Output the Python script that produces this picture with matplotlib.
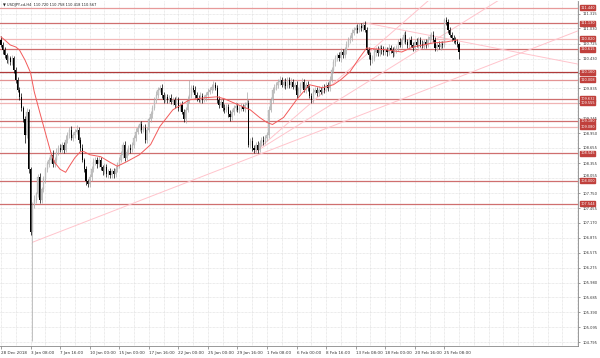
import numpy as np
import matplotlib
matplotlib.use('Agg')
import matplotlib.pyplot as plt
import matplotlib.transforms as mtransforms

# ---- data (USDJPY H4) ----
first_open = 110.80
closes = [
    110.70, 110.60, 110.50, 110.40, 110.44, 110.36, 110.44, 110.21, 110.01, 109.81,
    109.67, 109.45, 109.22, 108.92, 109.37, 108.23, 106.98, 107.53, 107.63, 107.73,
    108.07, 107.63, 107.83, 108.03, 108.23, 108.33, 108.42, 108.52, 108.33, 108.42,
    108.58, 108.66, 108.62, 108.72, 108.62, 108.82, 108.92, 109.02, 108.86, 108.92,
    108.98, 109.02, 108.82, 108.66, 108.42, 108.23, 107.99, 107.93, 108.07, 108.23,
    108.37, 108.42, 108.33, 108.42, 108.27, 108.19, 108.27, 108.13, 108.19, 108.11,
    108.19, 108.13, 108.23, 108.33, 108.42, 108.52, 108.72, 108.46, 108.58, 108.66,
    108.62, 108.72, 108.86, 108.98, 109.06, 109.12, 109.02, 109.06, 108.82, 109.02,
    109.22, 109.32, 109.45, 109.61, 109.71, 109.81, 109.85, 109.71, 109.61, 109.67,
    109.61, 109.65, 109.57, 109.61, 109.51, 109.61, 109.45, 109.51, 109.37, 109.22,
    109.41, 109.61, 109.71, 109.85, 109.81, 109.71, 109.65, 109.61, 109.69, 109.61,
    109.65, 109.71, 109.77, 109.81, 109.87, 109.91, 109.85, 109.61, 109.51, 109.57,
    109.45, 109.41, 109.47, 109.32, 109.26, 109.37, 109.45, 109.49, 109.41, 109.45,
    109.47, 109.43, 109.51, 109.55, 108.72, 108.80, 108.66, 108.62, 108.72, 108.62,
    108.76, 108.82, 108.78, 108.86, 108.92, 109.41, 109.61, 109.81, 109.85, 109.91,
    109.97, 110.01, 109.91, 109.97, 109.89, 110.01, 109.91, 109.97, 109.87, 109.91,
    109.71, 109.81, 109.91, 109.97, 109.81, 109.91, 109.85, 109.69, 109.61, 109.77,
    109.81, 109.75, 109.81, 109.77, 109.85, 109.81, 109.91, 109.85, 110.01, 110.21,
    110.36, 110.44, 110.50, 110.44, 110.56, 110.50, 110.60, 110.70, 110.80, 110.84,
    110.94, 111.00, 111.04, 111.00, 111.08, 111.04, 111.10, 111.00, 110.60, 110.50,
    110.40, 110.44, 110.56, 110.60, 110.54, 110.64, 110.60, 110.56, 110.60, 110.56,
    110.64, 110.60, 110.54, 110.60, 110.64, 110.76, 110.70, 110.80, 110.90, 110.76,
    110.70, 110.80, 110.70, 110.64, 110.76, 110.70, 110.80, 110.72, 110.68, 110.76,
    110.70, 110.80, 110.86, 110.90, 110.80, 110.64, 110.70, 110.66, 110.72, 110.70,
    111.20, 111.16, 111.00, 110.90, 110.84, 110.80, 110.76, 110.72, 110.567,
]
upper_wick = [
    .08, .05, .06, .04, .07, .05, .06, .04, .05, .06,
    .05, .07, .04, .06, .08, .05, .05, .06, .08, .05,
    .06, .08, .05, .06, .04, .07, .05, .06, .09, .05,
    .07, .05, .08, .06, .05, .09, .06, .05, .07, .06,
    .05, .08, .06, .05, .07, .04, .06, .05, .07, .06,
    .08, .06, .05, .07, .06, .05, .08, .06, .05, .07,
    .05, .06, .07, .05, .06, .08, .06, .07, .05, .06,
    .07, .05, .06, .08, .05, .07, .06, .05, .07, .06,
    .05, .07, .06, .05, .08, .06, .06, .07, .05, .06,
    .06, .05, .07, .06, .05, .07, .06, .05, .08, .06,
    .05, .07, .30, .06, .05, .07, .06, .05, .07, .06,
    .06, .05, .07, .06, .05, .08, .06, .05, .07, .06,
    .05, .07, .06, .05, .08, .06, .05, .07, .06, .05,
    .07, .06, .05, .22, .05, .06, .07, .05, .06, .07,
    .05, .06, .07, .05, .06, .08, .05, .06, .07, .05,
    .06, .07, .05, .06, .07, .05, .06, .07, .05, .06,
    .07, .05, .06, .07, .05, .06, .07, .05, .06, .07,
    .05, .06, .07, .05, .06, .07, .05, .06, .07, .05,
    .06, .07, .05, .06, .07, .05, .06, .07, .05, .06,
    .07, .05, .06, .07, .05, .06, .05, .07, .06, .05,
    .06, .07, .05, .06, .07, .05, .06, .07, .05, .06,
    .07, .05, .06, .07, .05, .06, .07, .05, .06, .07,
    .05, .06, .07, .05, .06, .07, .05, .06, .07, .05,
    .06, .07, .05, .06, .07, .05, .06, .07, .05, .06,
    .04, .05, .06, .05, .06, .05, .06, .05, .038,
]
lower_wick = [
    .05, .07, .06, .05, .08, .06, .05, .07, .06, .05,
    .07, .06, .05, .16, .06, .08, .06, 2.16, .07, .06,
    .05, .07, .06, .05, .07, .06, .05, .07, .06, .05,
    .06, .07, .05, .06, .07, .05, .06, .07, .05, .06,
    .07, .05, .06, .07, .05, .06, .07, .05, .06, .07,
    .05, .06, .07, .05, .06, .07, .05, .06, .07, .05,
    .06, .07, .05, .06, .07, .05, .06, .07, .05, .06,
    .07, .05, .06, .07, .05, .06, .07, .05, .06, .07,
    .05, .06, .07, .05, .06, .07, .05, .06, .07, .05,
    .06, .07, .05, .06, .07, .05, .06, .07, .05, .06,
    .07, .05, .06, .07, .05, .06, .07, .05, .06, .07,
    .05, .06, .07, .05, .06, .07, .05, .06, .07, .05,
    .06, .07, .05, .06, .07, .05, .06, .07, .05, .06,
    .07, .05, .06, .07, .05, .06, .07, .06, .06, .07,
    .05, .06, .07, .05, .06, .07, .05, .06, .07, .05,
    .06, .07, .05, .06, .07, .05, .06, .07, .05, .06,
    .07, .05, .06, .07, .05, .06, .07, .05, .06, .07,
    .05, .06, .07, .05, .06, .07, .05, .06, .07, .05,
    .06, .07, .05, .06, .07, .05, .06, .07, .05, .06,
    .07, .05, .06, .07, .05, .06, .07, .05, .06, .07,
    .10, .05, .06, .07, .05, .06, .07, .05, .06, .07,
    .05, .06, .07, .05, .06, .07, .05, .06, .07, .05,
    .06, .07, .05, .06, .07, .05, .06, .07, .05, .06,
    .07, .05, .06, .07, .05, .06, .07, .05, .06, .07,
    .05, .06, .07, .05, .06, .07, .05, .06, .149,
]

# moving average (bar index, price)
ma_bar = [0, 2, 5, 8, 10, 13, 16, 18, 21, 24, 27, 29, 32, 35, 37, 40, 43, 45, 48,
          54, 59, 63, 68, 75, 81, 86, 93, 102, 110, 117, 121, 126, 135, 140, 144,
          147, 153, 160, 167, 174, 180, 184, 189, 194, 198, 203, 209, 217, 223,
          234, 241, 247]
ma_val = [110.86, 110.80, 110.70, 110.66, 110.60, 110.40, 110.15, 109.77, 109.36,
          108.96, 108.56, 108.37, 108.23, 108.17, 108.29, 108.46, 108.58, 108.58,
          108.52, 108.48, 108.37, 108.29, 108.38, 108.52, 108.72, 109.08, 109.41,
          109.61, 109.65, 109.67, 109.63, 109.55, 109.41, 109.26, 109.16, 109.12,
          109.26, 109.61, 109.91, 109.85, 109.91, 110.01, 110.17, 110.44, 110.64,
          110.62, 110.60, 110.56, 110.66, 110.74, 110.76, 110.80]

# horizontal support / resistance levels
levels = [111.440, 111.130, 110.820, 110.615, 110.160, 110.008, 109.632,
          109.555, 109.180, 109.080, 108.545, 108.000, 107.544]
level_colors = ['#e79a9a', '#cf6f6f', '#f2b8b8', '#cf6f6f', '#b03a3a', '#e39494',
                '#cf6f6f', '#f0b4b4', '#cf6f6f', '#f0b4b4', '#cf6f6f', '#cf6f6f',
                '#cf6f6f']

# trend lines: (bar, price) -> (bar, price)
trend_lines = [
    ((17, 106.78), (312.4, 110.98)),
    ((137, 108.56), (232, 111.60)),
    ((137, 108.56), (270, 111.60)),
    ((197, 111.14), (312.4, 110.32)),
]

price_ticks = [111.315, 111.030, 110.725, 110.430, 110.135, 109.835, 109.540,
               109.245, 108.950, 108.655, 108.355, 108.055, 107.750, 107.455,
               107.170, 106.875, 106.575, 106.275, 105.980, 105.685, 105.390,
               105.095, 104.795]
hidden_ticks = [110.135, 109.540]

time_labels = ['28 Dec 2018', '3 Jan 08:00', '7 Jan 16:00', '10 Jan 00:00',
               '15 Jan 00:00', '17 Jan 16:00', '22 Jan 00:00', '25 Jan 00:00',
               '29 Jan 16:00', '1 Feb 08:00', '6 Feb 00:00', '8 Feb 16:00',
               '13 Feb 08:00', '18 Feb 00:00', '20 Feb 16:00', '25 Feb 08:00']
bars_per_label = 16

header = 'USDJPY-cd,H4  110.720 110.758 110.418 110.567'

# ---- build candles ----
closes = np.array(closes)
opens = np.concatenate([[first_open], closes[:-1]])
highs = np.maximum(opens, closes) + np.array(upper_wick)
lows = np.minimum(opens, closes) - np.array(lower_wick)
idx = np.arange(len(closes))
bull = closes >= opens

fig = plt.figure(figsize=(6, 3.58), dpi=100)
ax = fig.add_axes([0.0, 12 / 358, 578 / 600, 345 / 358])
ax.set_xlim(-0.54, 312.4)
ax.set_ylim(104.72, 111.573)

# grid
for p in price_ticks:
    ax.axhline(p, color='#d9d9d9', lw=0.5, ls=(0, (1, 1)), zorder=0)
for b in range(0, 313, 8):
    ax.axvline(b, color='#d9d9d9', lw=0.5, ls=(0, (1, 1)), zorder=0)

# levels
for lv, col in zip(levels, level_colors):
    ax.axhline(lv, color=col, lw=0.9, zorder=1)

# trend lines
for (x0, y0), (x1, y1) in trend_lines:
    ax.plot([x0, x1], [y0, y1], color='#ffc4cc', lw=0.7, zorder=1)

# candles
wick_col = np.where(bull, '#a8a8a8', '#000000')
ax.vlines(idx, lows, highs, colors=wick_col, lw=0.5, zorder=2)
body = np.maximum(np.abs(closes - opens), 0.01)
ax.bar(idx[bull], body[bull], bottom=np.minimum(opens, closes)[bull], width=0.6,
       color='#c8c8c8', edgecolor='#a8a8a8', lw=0.2, zorder=3)
ax.bar(idx[~bull], body[~bull], bottom=np.minimum(opens, closes)[~bull], width=0.6,
       color='#000000', lw=0, zorder=3)

# moving average
ax.plot(ma_bar, ma_val, color='#f25a5a', lw=0.7, zorder=4)

# axes styling
ax.yaxis.tick_right()
ax.set_yticks(price_ticks)
ax.set_yticklabels(['' if p in hidden_ticks else f'{p:.3f}' for p in price_ticks],
                   fontsize=2.6, color='#333333')
ax.tick_params(axis='y', length=1.5, width=0.4, pad=1.5, colors='#555555')
ax.set_xticks([i * bars_per_label for i in range(len(time_labels))])
ax.set_xticklabels(time_labels, fontsize=3.0, color='#333333', ha='left')
ax.tick_params(axis='x', length=2, width=0.4, pad=1.5, colors='#555555')
for lab in ax.get_xticklabels() + ax.get_yticklabels():
    lab.set_color('#333333')
for lab, p in zip(ax.get_yticklabels(), price_ticks):
    lab.set_verticalalignment('bottom' if p == 108.055 else 'center_baseline')
for side in ['left', 'top']:
    ax.spines[side].set_visible(False)
for side in ['right', 'bottom']:
    ax.spines[side].set_color('#888888')
    ax.spines[side].set_linewidth(0.6)

# level price tags on the right axis
trans = mtransforms.blended_transform_factory(ax.transAxes, ax.transData)
for lv in levels:
    ax.text(1.004, lv, f'{lv:.3f}', transform=trans, fontsize=2.5, color='white',
            va='center', ha='left', zorder=6, clip_on=False,
            bbox=dict(facecolor='#c0403c', edgecolor='#c0403c', pad=0.4))

ax.text(0.006, 0.995, '\u25bc ' + header, transform=ax.transAxes, fontsize=2.6,
        va='top', ha='left', color='#222222')

fig.savefig('out.png', dpi=100)
